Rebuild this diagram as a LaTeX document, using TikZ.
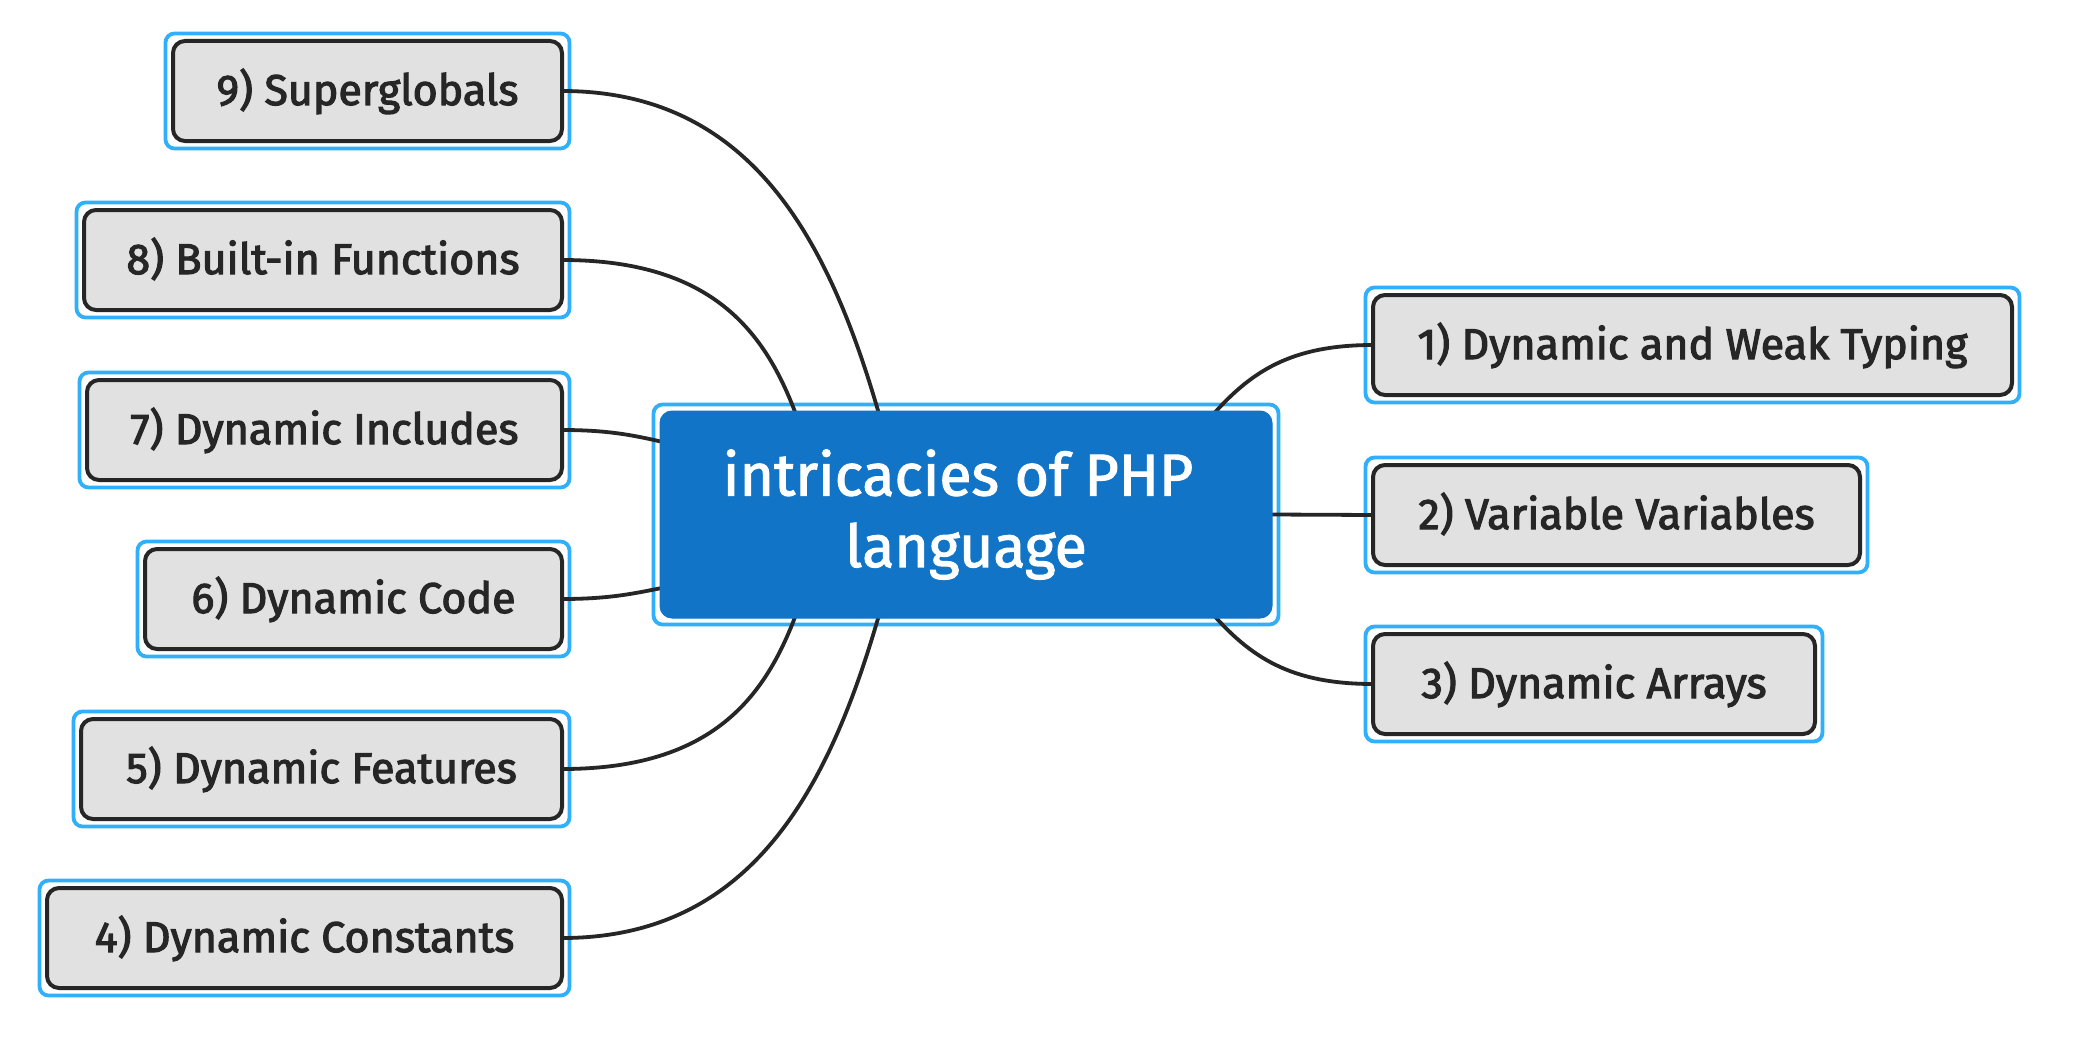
\documentclass[tikz,border=0pt]{standalone}
\usepackage{fontspec}
\setmainfont{Fira Sans}
\newfontfamily\leaffont{Fira Sans}[FakeBold=2.6]
\newfontfamily\hubfont{Fira Sans}[FakeBold=1.8]
\usetikzlibrary{calc}
\definecolor{halo}{HTML}{30B0FA}
\definecolor{hubblue}{HTML}{1174C7}
\definecolor{darkline}{HTML}{262626}
\definecolor{leafgray}{HTML}{E1E1E1}
\pgfdeclarelayer{bglayer}
\pgfdeclarelayer{halolayer}
\pgfdeclarelayer{edgelayer}
\pgfsetlayers{bglayer,halolayer,edgelayer,main}
\begin{document}
\begin{tikzpicture}[x=1pt,y=-1pt,
  leafbox/.style={draw=darkline, fill=leafgray, line width=4pt, rounded corners=12pt,
    minimum height=100pt, inner sep=0pt, outer sep=0pt, text=darkline,
    text height=34pt, text depth=6pt,
    font=\leaffont\fontsize{43}{50}\selectfont},
  hub/.style={draw=hubblue, fill=hubblue, line width=1pt, rounded corners=12pt,
    minimum width=612pt, minimum height=207pt, inner sep=0pt, outer sep=0pt,
    text=white, align=center, font=\hubfont\fontsize{59}{71.5}\selectfont},
  haloline/.style={draw=halo, line width=3.8pt, rounded corners=9pt},
  edge/.style={draw=darkline, line width=3.8pt}]
\begin{pgfonlayer}{bglayer}
\fill[white] (0,0) rectangle (2092,1062);
\end{pgfonlayer}
\path[use as bounding box] (0,0) rectangle (2092,1062);

% central node
\node[hub] (c) at (966,514.5) {intricacies of PHP\hspace*{16pt}\\language};

% left leaves
\node[leafbox, anchor=east, minimum width=389pt] (n9) at (562,91) {9) Superglobals};
\node[leafbox, anchor=east, minimum width=478pt] (n8) at (562,260) {8) Built-in Functions};
\node[leafbox, anchor=east, minimum width=475pt] (n7) at (562,430) {7) Dynamic Includes};
\node[leafbox, anchor=east, minimum width=417pt] (n6) at (562,599) {6) Dynamic Code};
\node[leafbox, anchor=east, minimum width=481pt] (n5) at (562,769) {5) Dynamic Features};
\node[leafbox, anchor=east, minimum width=515pt] (n4) at (562,938) {4) Dynamic Constants};

% right leaves
\node[leafbox, anchor=west, minimum width=639pt] (n1) at (1373,345) {1) Dynamic and Weak Typing};
\node[leafbox, anchor=west, minimum width=487pt] (n2) at (1373,515) {2) Variable Variables};
\node[leafbox, anchor=west, minimum width=442pt] (n3) at (1373,684) {3) Dynamic Arrays};

% halos
\begin{pgfonlayer}{halolayer}
\foreach \n in {n1,n2,n3,n4,n5,n6,n7,n8,n9}
  \draw[haloline] ([xshift=-7.5pt,yshift=7.5pt]\n.north west) rectangle ([xshift=7.5pt,yshift=-7.5pt]\n.south east);
\draw[haloline] ([xshift=-6.5pt,yshift=6.5pt]c.north west) rectangle ([xshift=6.5pt,yshift=-6.5pt]c.south east);
\end{pgfonlayer}

% connectors
\begin{pgfonlayer}{edgelayer}
\draw[edge] (n9.east) .. controls (752,91) and (830,241) .. ($(c.north west)+(221,10)$);
\draw[edge] (n8.east) .. controls (712,260) and (766,331) .. ($(c.north west)+(138,9)$);
\draw[edge] (n7.east) .. controls (615,430) and (640,437) .. ($(c.north west)+(12,33)$);
\draw[edge] (n6.east) .. controls (615,599) and (640,592) .. ($(c.south west)+(12,-32)$);
\draw[edge] (n5.east) .. controls (712,769) and (766,698) .. ($(c.south west)+(138,-9)$);
\draw[edge] (n4.east) .. controls (752,938) and (830,788) .. ($(c.south west)+(221,-10)$);
\draw[edge] ($(c.north east)+(-62,7)$) .. controls (1250,372) and (1290,345) .. (n1.west);
\draw[edge] (c.east) -- (n2.west);
\draw[edge] ($(c.south east)+(-62,-7)$) .. controls (1250,657) and (1290,684) .. (n3.west);
\end{pgfonlayer}
\end{tikzpicture}
\end{document}
